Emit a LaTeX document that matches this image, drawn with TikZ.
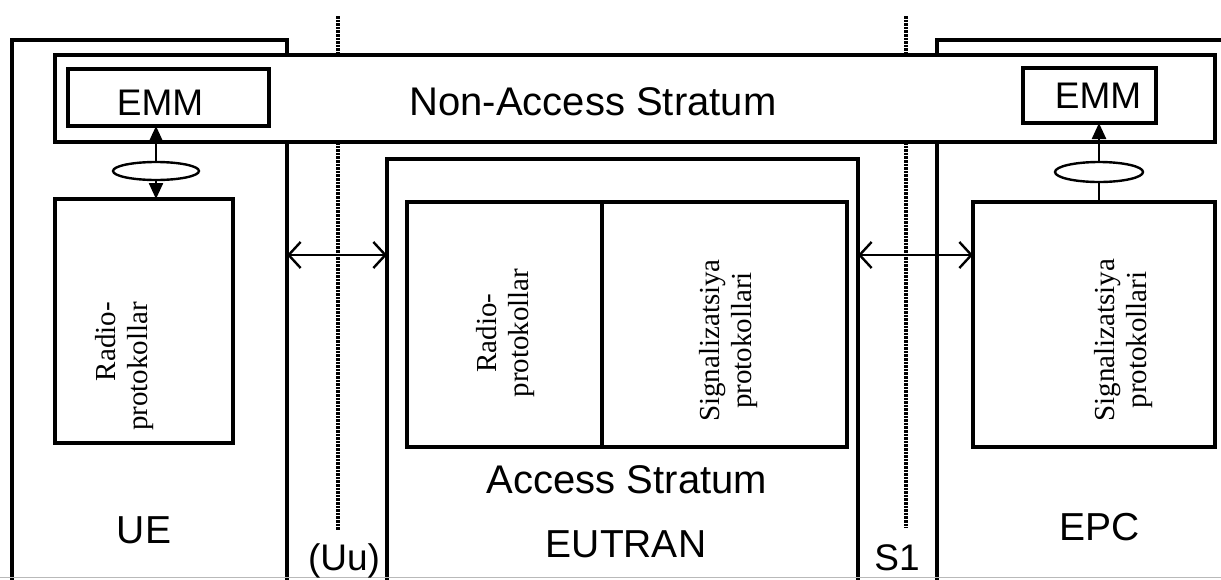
\documentclass[tikz,border=0pt]{standalone}
\usepackage{fontspec}
\setmainfont{Liberation Serif}
\setsansfont{Liberation Sans}
\usetikzlibrary{arrows.meta,shapes.geometric}
\tikzset{
  box/.style={draw, rectangle, line width=3.4pt, inner sep=0pt, outer sep=0pt},
  wbox/.style={box, fill=white},
  oval/.style={draw, ellipse, line width=2.4pt, fill=white, inner sep=0pt, outer sep=0pt},
  dotline/.style={line width=3.2pt, dash pattern=on 2.6pt off 1pt},
  dblarrow/.style={line width=2.4pt, {Straight Barb[length=12pt,width=26pt]}-{Straight Barb[length=12pt,width=26pt]}},
  emmarrow/.style={line width=2.4pt},
  tip/.style={-{Triangle[length=16pt,width=14pt]}},
  sanslbl/.style={font=\sffamily\fontsize{39}{44}\selectfont, inner sep=0pt, anchor=base},
  vlbl/.style={font=\fontsize{29}{32}\selectfont, rotate=90, inner sep=0pt, align=center}
}
\begin{document}
\begin{tikzpicture}[x=1pt,y=-1pt]
\useasboundingbox (0,0) rectangle (1221,579);
\clip (0,0) rectangle (1221,579);
% dotted interface lines
\coordinate (uutop) at (338,16);
\coordinate (uubot) at (338,530);
\coordinate (s1top) at (906,16);
\coordinate (s1bot) at (906,528);
\draw[dotline] (uutop) -- (uubot);
\draw[dotline] (s1top) -- (s1bot);
% outer boxes
\node[box, minimum width=275pt, minimum height=560pt] (UE) at (149.5,320) {};
\node[box, minimum width=313pt, minimum height=560pt] (EPC) at (1093.5,320) {};
\node[box, minimum width=471pt, minimum height=441pt] (EUTRAN) at (622.5,379.5) {};
% bottom crop line
\coordinate (bl) at (0,577.5);
\coordinate (br) at (1221,577.5);
\draw[gray!55, line width=1.5pt] (bl) -- (br);
% NAS band
\node[wbox, minimum width=1160pt, minimum height=87pt] (NAS) at (635,98.5) {};
\node[sanslbl, font=\sffamily\fontsize{40}{44}\selectfont] (nastxt) at (593,115) {Non-Access Stratum};
% EMM boxes
\node[box, minimum width=201pt, minimum height=57pt] (EMM1) at (168.5,97.5) {};
\node[sanslbl, font=\sffamily\fontsize{37}{44}\selectfont] (emm1txt) at (160,115) {EMM};
\node[box, minimum width=133pt, minimum height=55pt] (EMM2) at (1089.5,95.5) {};
\node[sanslbl, font=\sffamily\fontsize{37}{44}\selectfont] (emm2txt) at (1098,108) {EMM};
% protocol boxes
\node[box, minimum width=178pt, minimum height=244pt] (RUE) at (144,321) {};
\node[box, minimum width=195pt, minimum height=245pt] (REU) at (504.5,324.5) {};
\node[box, minimum width=245pt, minimum height=245pt] (SEU) at (724.5,324.5) {};
\node[box, minimum width=242pt, minimum height=245pt] (SEPC) at (1094,324.5) {};
\node[vlbl, align=right] (rue) at (125,366.5) {Radio-\\protokollar};
\node[vlbl] (reu) at (506,333) {Radio-\\protokollar};
\node[vlbl] (seu) at (729,340.5) {Signalizatsiya\\protokollari};
\node[vlbl] (sepc) at (1124,340) {Signalizatsiya\\protokollari};
% labels
\node[sanslbl, font=\sffamily\fontsize{40}{44}\selectfont] (as) at (627,493) {Access Stratum};
\node[sanslbl] (eutxt) at (626,557) {EUTRAN};
\node[sanslbl] (uetxt) at (144,543) {UE};
\node[sanslbl] (epctxt) at (1100,540) {EPC};
\node[sanslbl, font=\sffamily\fontsize{37}{44}\selectfont] (uutxt) at (344,570) {(Uu)};
\node[sanslbl, font=\sffamily\fontsize{37}{44}\selectfont] (s1txt) at (897,570) {S1};
% interface arrows
\coordinate (ay) at (0,255);
\draw[dblarrow] (UE.east |- ay) -- (EUTRAN.west |- ay);
\draw[dblarrow] (EUTRAN.east |- ay) -- (SEPC.west |- ay);
% EMM connections
\coordinate (e1) at (156,171);
\coordinate (e2) at (1099,172);
\draw[emmarrow, {Triangle[length=16pt,width=14pt]}-{Triangle[length=16pt,width=14pt]}] (e1 |- EMM1.south) -- (e1 |- RUE.north);
\draw[emmarrow, tip] (e2 |- SEPC.north) -- (e2 |- EMM2.south);
\node[oval, minimum width=86pt, minimum height=18pt] (ell1) at (e1) {};
\node[oval, minimum width=88pt, minimum height=20pt] (ell2) at (e2) {};
\end{tikzpicture}
\end{document}
